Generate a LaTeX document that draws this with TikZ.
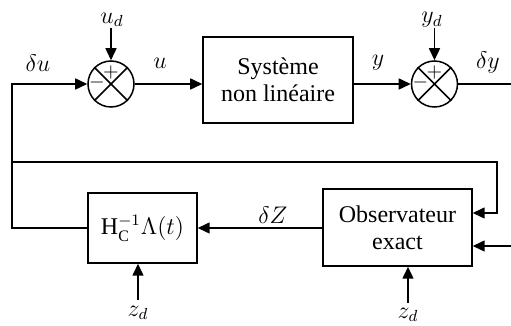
\documentclass[tikz,border=0pt,12pt]{standalone}
\usepackage{fontspec}
\setmainfont{Liberation Serif}
\usepackage{amsmath}
\usetikzlibrary{arrows.meta}

\begin{document}
\begin{tikzpicture}[x=0.5pt,y=-0.5pt,
  blk/.style={draw, line width=0.75pt, align=center, inner sep=0pt},
  sumj/.style={draw, circle, line width=0.75pt, minimum size=23pt, inner sep=0pt},
  sig/.style={-{Triangle[length=6pt,width=5.5pt]}, line width=0.75pt},
  wire/.style={line width=0.75pt},
  sgn/.style={font=\footnotesize, inner sep=0pt}]
\useasboundingbox (0,0) rectangle (511,326);
%chaine directe
\node[sumj] (s1) at (111,84) {};
\node[blk, minimum width=75pt, minimum height=43pt] (sys) at (278,80) {Système\\[-1pt]non linéaire};
\node[sumj] (s2) at (434.5,84) {};
\coordinate (out) at (511,84);
%croix et signes
\foreach \s in {s1,s2}{
  \draw[wire] (\s.north west)--(\s.south east);
  \draw[wire] (\s.north east)--(\s.south west);
  \node[sgn] at ([yshift=5.5pt]\s.center) {$+$};
  \node[sgn] at ([xshift=-7pt,yshift=0.5pt]\s.center) {$-$};
}
%consignes
\node (ud) at (112,20) {$u_d$};
\node (yd) at (432,20) {$y_d$};
\coordinate (udtop) at (111,28);
\coordinate (ydtop) at (434.5,28);
%etiquettes
\node (du) at (38,63) {$\delta u$};
\node (u) at (160,63) {$u$};
\node (y) at (378,63) {$y$};
\node (dy) at (488,63) {$\delta y$};
\node (dZ) at (273,215) {$\delta Z$};
%blocs du bas
\node[blk, minimum width=54.5pt, minimum height=35pt] (hc) at (142.5,228) {$\mathrm{H}_{\mathrm{C}}^{-1}\Lambda(t)$};
\node[blk, minimum width=74.5pt, minimum height=38.5pt] (obs) at (397.5,227.5) {Observateur\\[-1pt]exact};
\node (zd1) at (138,313) {$z_d$};
\node (zd2) at (408,315) {$z_d$};
\coordinate (zd1b) at (138,300);
\coordinate (zd2b) at (408,303);
%points du bouclage
\coordinate (fl) at (12,228);
\coordinate (ft) at (12,84);
\coordinate (fm) at (12,162);
\coordinate (fr) at (497,162);
\coordinate (fo) at (497,213);
\coordinate (inr) at (511,246);

%liaisons
\draw[sig] (udtop)--(s1.north);
\draw[sig] (ydtop)--(s2.north);
\draw[sig] (s1.east)--(s1.east -| sys.west);
\draw[sig] (sys.east |- s2)--(s2.west);
\draw[wire] (s2.east)--(out);

\draw[sig] (obs.west |- fl)--(hc.east |- fl);
\draw[sig] (hc.west |- fl)--(fl)--(ft)--(s1.west);
\draw[sig] (fm)--(fr)--(fo)--(obs.east |- fo);
\draw[sig] (inr)--(obs.east |- inr);

\draw[sig] (zd1b)--(hc.south -| zd1b);
\draw[sig] (zd2b)--(obs.south -| zd2b);
\end{tikzpicture}
\end{document}
